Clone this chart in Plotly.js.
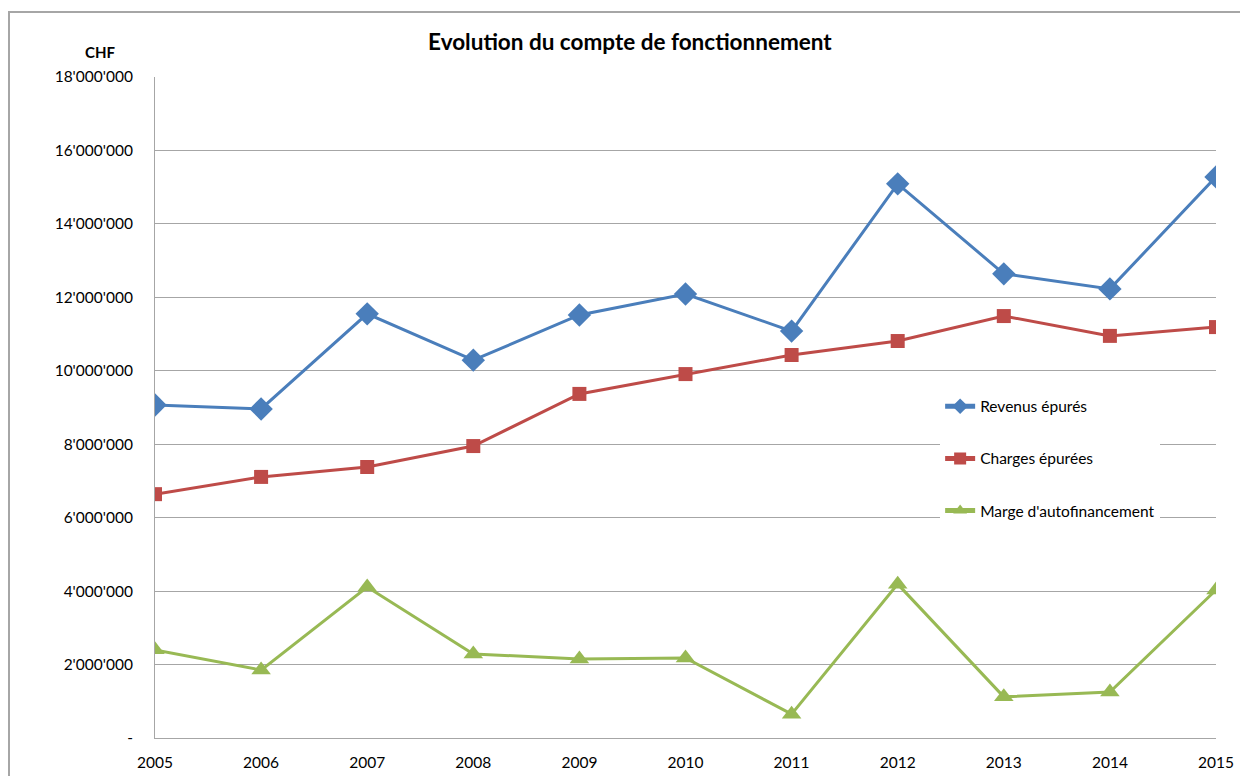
<!DOCTYPE html>
<html>
<head>
<meta charset="utf-8">
<script src="https://cdn.plot.ly/plotly-3.0.1.min.js"></script>
<style>
  html, body { margin: 0; padding: 0; background: #fff; }
  #chart { width: 1240px; height: 776px; }
</style>
</head>
<body>
<div id="chart"></div>
<script>
const years = [2005, 2006, 2007, 2008, 2009, 2010, 2011, 2012, 2013, 2014, 2015];

const revenus = [9070000, 8960000, 11550000, 10290000, 11520000, 12090000, 11080000, 15090000, 12640000, 12230000, 15280000];
const charges = [6640000, 7110000, 7380000, 7950000, 9370000, 9910000, 10430000, 10810000, 11490000, 10950000, 11190000];
const marge = [2400000, 1850000, 4110000, 2290000, 2150000, 2180000, 650000, 4190000, 1120000, 1250000, 4030000];

const yTicks = [0, 2000000, 4000000, 6000000, 8000000, 10000000, 12000000, 14000000, 16000000, 18000000];
const yTickText = ["-", "2'000'000", "4'000'000", "6'000'000", "8'000'000", "10'000'000",
  "12'000'000", "14'000'000", "16'000'000", "18'000'000"];

const font = "Lato, 'Open Sans', sans-serif";

const traces = [
  {
    x: years, y: revenus, name: "Revenus épurés",
    mode: "lines+markers", legendgroup: "a",
    line: { color: "#4a7ebb", width: 3 },
    marker: { symbol: "diamond", size: 18, color: "#4a7ebb" }
  },
  {
    x: years, y: charges, name: "Charges épurées",
    mode: "lines+markers", legendgroup: "b",
    line: { color: "#be4b48", width: 3 },
    marker: { symbol: "square", size: 14, color: "#be4b48" }
  },
  {
    x: years, y: marge, name: "Marge d'autofinancement",
    mode: "lines+markers", legendgroup: "c",
    line: { color: "#98b954", width: 3 },
    marker: { symbol: "triangle-up", size: 17, color: "#98b954" }
  }
];

const layout = {
  width: 1240,
  height: 776,
  margin: { l: 155, r: 24, t: 77, b: 38 },
  paper_bgcolor: "#fff",
  plot_bgcolor: "#fff",
  font: { family: font, size: 15, color: "#000" },
  title: {
    text: "<b>Evolution du compte de fonctionnement</b>",
    font: { family: font, size: 22.5, color: "#000" },
    x: 0.508, xanchor: "center", y: 0.946, yanchor: "middle"
  },
  xaxis: {
    range: [2005, 2015],
    tickvals: years,
    ticktext: years.map(String),
    showgrid: false,
    zeroline: false,
    showline: true,
    linecolor: "#a6a6a6",
    linewidth: 1,
    ticks: "",
    ticklabelstandoff: 10,
    tickfont: { family: font, size: 15.5, color: "#000" }
  },
  yaxis: {
    range: [0, 18000000],
    tickvals: yTicks,
    ticktext: yTickText,
    showgrid: true,
    gridcolor: "#a6a6a6",
    gridwidth: 1,
    zeroline: false,
    showline: true,
    linecolor: "#a6a6a6",
    linewidth: 1,
    ticks: "",
    ticklabelstandoff: 18,
    tickfont: { family: font, size: 15.5, color: "#000" }
  },
  legend: {
    x: 0.74, xanchor: "left",
    y: 0.527, yanchor: "top",
    bgcolor: "#fff",
    traceorder: "grouped",
    tracegroupgap: 29,
    itemsizing: "constant",
    font: { family: font, size: 15.5, color: "#000" },
    itemwidth: 30
  },
  showlegend: true,
  annotations: [
    {
      text: "<b>CHF</b>", xref: "paper", yref: "paper",
      x: (100 - 155) / 1061, y: 1 + (77 - 52) / 661,
      xanchor: "center", yanchor: "middle", showarrow: false,
      font: { family: font, size: 15, color: "#000" }
    }
  ],
  shapes: [
    {
      type: "rect", xref: "paper", yref: "paper",
      x0: (9 - 155) / 1061, x1: (1300 - 155) / 1061,
      y0: -0.3, y1: 1 + (77 - 12) / 661,
      line: { color: "#a6a6a6", width: 2 },
      fillcolor: "rgba(0,0,0,0)",
      layer: "below"
    }
  ]
};

Plotly.newPlot("chart", traces, layout, { displayModeBar: false, staticPlot: true });
</script>
</body>
</html>
